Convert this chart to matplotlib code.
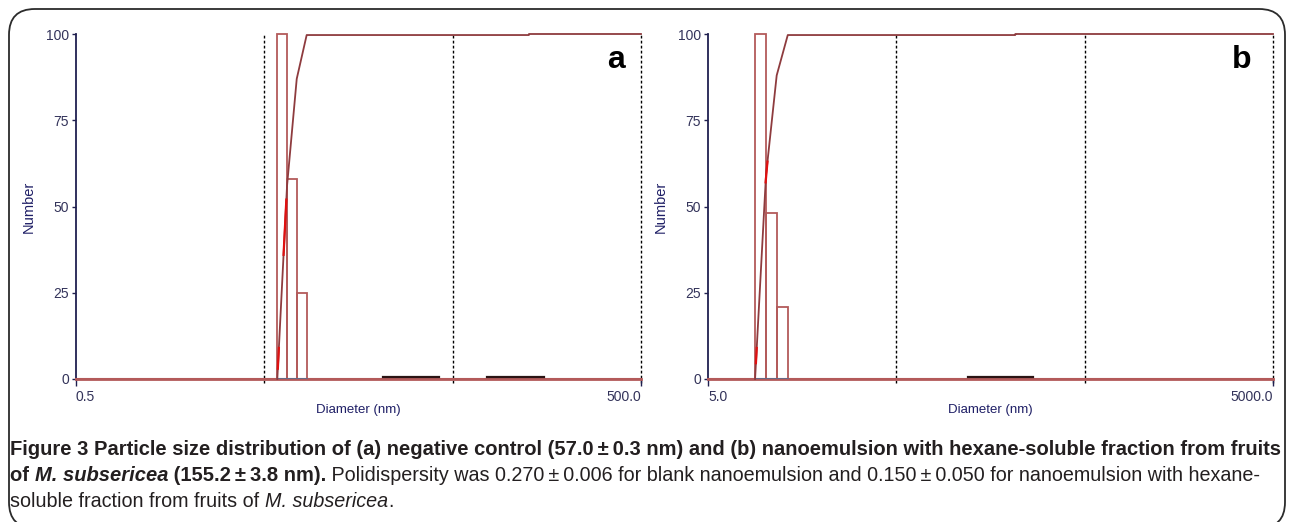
import numpy as np
import matplotlib
matplotlib.use("Agg")
import matplotlib.pyplot as plt
from matplotlib import font_manager
from matplotlib.patches import FancyBboxPatch

# ---- data ----
# panel a: negative control
a_edges = [5.86, 6.60, 7.43, 8.39]          # bin edges (nm)
a_counts = [100, 58, 25]                     # number (%)
a_cum_x = [5.86, 6.60, 7.43, 8.39, 127.0, 127.0, 500.0]
a_cum_y = [0, 56, 87, 99.7, 99.7, 100, 100]
a_red = [(3, 9), (36, 52)]                   # bright red bits of the cumulative curve
a_tail = [(21.3, 42.4), (76.4, 153.4)]       # tiny populations near zero
a_xlim = (0.5, 500.0)
a_grid = [5.0, 50.0, 500.0]
a_ticklabels = ["0.5", "500.0"]

# panel b: nanoemulsion with hexane-soluble fraction
b_edges = [8.89, 10.16, 11.58, 13.26]
b_counts = [100, 48, 21]
b_cum_x = [8.89, 10.16, 11.58, 13.26, 214.0, 214.0, 5000.0]
b_cum_y = [0, 59, 88, 99.7, 99.7, 100, 100]
b_red = [(4.6, 9), (57, 63)]
b_tail = [(120.6, 264.9)]
b_xlim = (5.0, 5000.0)
b_grid = [50.0, 500.0, 5000.0]
b_ticklabels = ["5.0", "5000.0"]

y_ticks = [0, 25, 50, 75, 100]

BAR = "#b35a5a"
CUM = "#8e3b3e"
NAVY = "#1f1f66"
TICKC = "#33335a"


def pick(names):
    for n in names:
        try:
            font_manager.findfont(n, fallback_to_default=False)
            return n
        except ValueError:
            pass
    return "DejaVu Sans"


SANS = pick(["Liberation Sans", "Arial"])
CAP = pick(["Liberation Sans Narrow", "Liberation Sans"])

W, H = 1290, 522
fig = plt.figure(figsize=(W / 100, H / 100), dpi=100)


def fx(x):
    return x / W


def fy(y):
    return 1 - y / H


def panel(left_px, edges, counts, cum_x, cum_y, red, tail, xlim, grid, ticklabels):
    ax = fig.add_axes([fx(left_px), fy(379), 565 / W, 345 / H])
    ax.set_xscale("log")
    ax.set_xlim(*xlim)
    ax.set_ylim(0, 100)

    # baseline
    ax.plot(xlim, [0, 0], color=BAR, lw=2, clip_on=False, zorder=2)
    # histogram bars
    ax.bar(edges[:-1], counts, width=np.diff(edges), align="edge", fill=False,
           edgecolor=BAR, lw=1.3, clip_on=False, zorder=3)
    ax.plot([edges[0], edges[-1]], [0, 0], color="#5f6b8c", lw=1.3, zorder=4)
    # cumulative curve
    ax.plot(cum_x, cum_y, color=CUM, lw=1.3, clip_on=False, zorder=5)
    lx = np.log10(cum_x[:4])
    for lo, hi in red:
        xs = 10 ** np.interp([lo, hi], cum_y[:4], lx)
        ax.plot(xs, [lo, hi], color="#e01010", lw=1.6, zorder=6)
    for lo, hi in tail:
        ax.plot([lo, hi], [0.5, 0.5], color="#2a1414", lw=1.6, zorder=6)

    # dotted decade markers
    ax.vlines(grid, -1.3, 100, colors="black", linestyles=(0, (2, 1.6)), lw=1,
              clip_on=False, zorder=1)

    for s in ["top", "right"]:
        ax.spines[s].set_visible(False)
    ax.spines["bottom"].set_color(BAR)
    ax.spines["bottom"].set_linewidth(1.5)
    ax.spines["left"].set_color("#202050")
    ax.spines["left"].set_linewidth(1.3)

    ax.set_yticks(y_ticks)
    ax.set_yticklabels([str(v) for v in y_ticks])
    ax.set_xticks(list(xlim))
    ax.set_xticklabels(ticklabels)
    ax.xaxis.set_minor_locator(matplotlib.ticker.NullLocator())
    ax.tick_params(axis="y", length=3, width=1, color="#202050", labelcolor=TICKC,
                   labelsize=10, pad=2)
    ax.tick_params(axis="x", length=5, width=1, color="#202050", labelcolor=TICKC,
                   labelsize=10, pad=3)
    labs = ax.get_xticklabels()
    labs[0].set_ha("left")
    labs[-1].set_ha("right")
    for lab in ax.get_xticklabels() + ax.get_yticklabels():
        lab.set_family(SANS)

    ax.set_ylabel("Number", color=NAVY, fontsize=10.5, family=SANS)
    ax.yaxis.set_label_coords(-0.071, 0.5)
    ax.set_xlabel("Diameter (nm)", color=NAVY, fontsize=9.5, family=SANS)
    ax.xaxis.set_label_coords(0.5, -0.09)
    ax.xaxis.label.set_va("center")

    return ax


panel(76, a_edges, a_counts, a_cum_x, a_cum_y, a_red, a_tail, a_xlim, a_grid,
      a_ticklabels)
panel(708, b_edges, b_counts, b_cum_x, b_cum_y, b_red, b_tail, b_xlim, b_grid,
      b_ticklabels)

fig.text(fx(616), fy(68), "a", fontsize=23, fontweight="bold", family=SANS,
         ha="center", va="baseline")
fig.text(fx(1242), fy(68), "b", fontsize=23, fontweight="bold", family=SANS,
         ha="center", va="baseline")

# rounded frame around the figure
frame = FancyBboxPatch((fx(9), fy(528)), fx(1276), (528 - 9) / H,
                       boxstyle="round,pad=0,rounding_size=0.02",
                       transform=fig.transFigure, fill=False, ec="#2b2b2b",
                       lw=1.3, mutation_aspect=W / H)
fig.patches.append(frame)

# ---- caption, drawn piece by piece so bold/italic can mix ----
renderer = fig.canvas.get_renderer()


def measure(txt, size, weight, style):
    def w(s):
        t = fig.text(0, 0, s, fontsize=size, fontweight=weight, fontstyle=style,
                     family=CAP)
        width = t.get_window_extent(renderer).width
        t.remove()
        return width
    return w("|" + txt + "|") - w("||")


def write_line(x, y, pieces, size, draw=True):
    pos = x
    for txt, weight, style in pieces:
        s = size if weight == "bold" else size * 0.98
        if draw:
            fig.text(fx(pos), fy(y), txt, fontsize=s, fontweight=weight,
                     fontstyle=style, family=CAP, color="#231f20",
                     ha="left", va="baseline")
        pos += measure(txt, s, weight, style)
    return pos


line1 = [("Figure 3 Particle size distribution of (a) negative control (57.0\u2009\u00b1\u20090.3 nm) "
          "and (b) nanoemulsion with hexane-soluble fraction from fruits", "bold", "normal")]
line2 = [("of ", "bold", "normal"), ("M. subsericea", "bold", "italic"),
         (" (155.2\u2009\u00b1\u20093.8 nm).", "bold", "normal"),
         (" Polidispersity was 0.270\u2009\u00b1\u20090.006 for blank nanoemulsion and "
          "0.150\u2009\u00b1\u20090.050 for nanoemulsion with hexane-", "normal", "normal")]
line3 = [("soluble fraction from fruits of ", "normal", "normal"),
         ("M. subsericea", "normal", "italic"), (".", "normal", "normal")]

base = 12.0
w1 = write_line(0, 0, line1, base, draw=False)
cap_size = base * 1265 / w1

write_line(10, 455, line1, cap_size)
write_line(10, 481, line2, cap_size)
write_line(10, 507, line3, cap_size)

fig.savefig("out.png", dpi=100)
